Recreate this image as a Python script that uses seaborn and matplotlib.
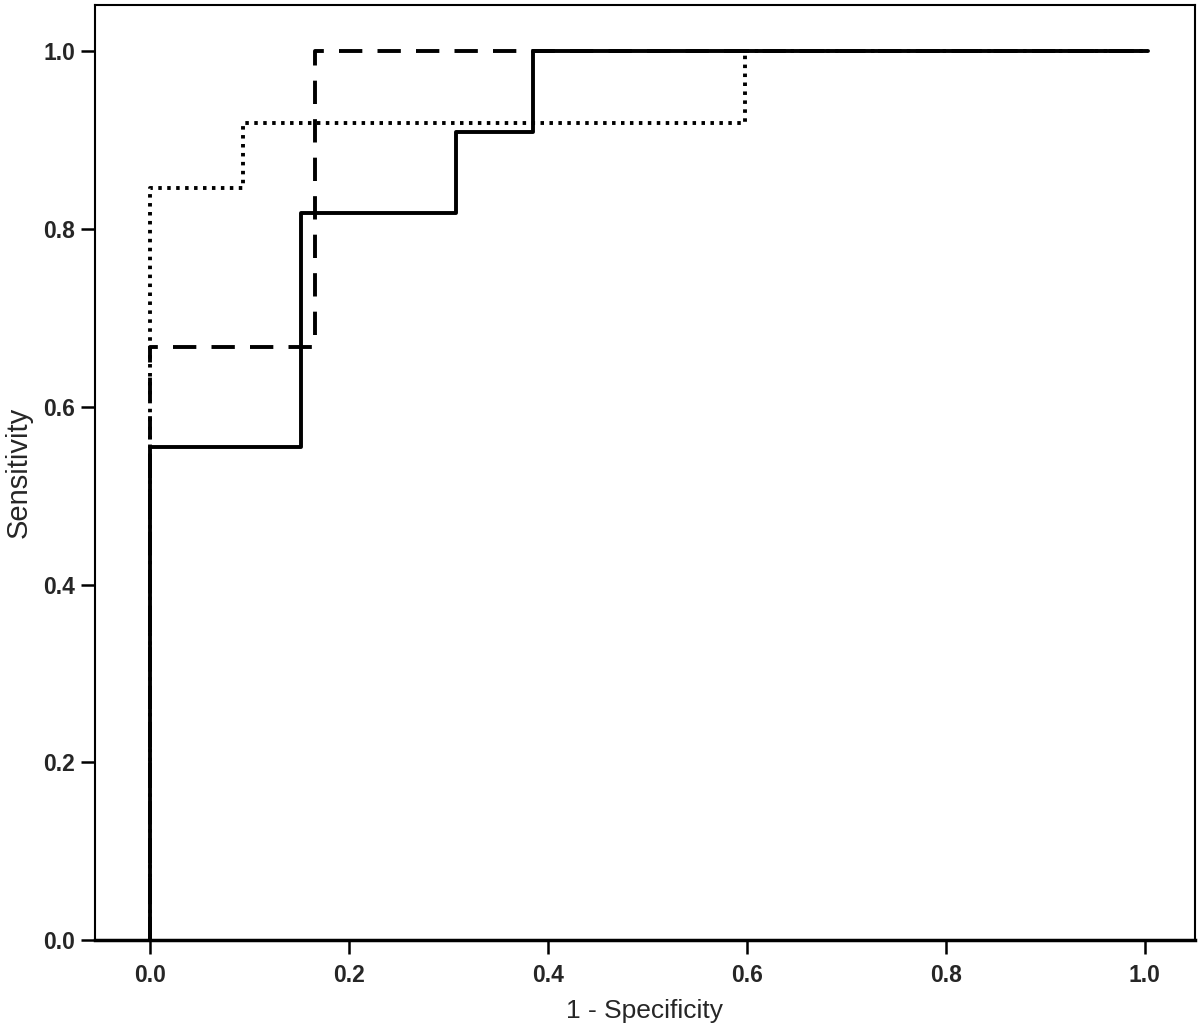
import seaborn as sns
import matplotlib.pyplot as plt
import pandas as pd

# ROC corner points (1 - specificity, sensitivity)
solid_fpr = [0.0, 0.0, 0.151, 0.151, 0.307, 0.307, 0.385, 0.385, 1.004]
solid_tpr = [0.0, 0.555, 0.555, 0.818, 0.818, 0.909, 0.909, 1.0, 1.0]

dashed_fpr = [0.0, 0.0, 0.166, 0.166, 1.004]
dashed_tpr = [0.0, 0.667, 0.667, 1.0, 1.0]

dotted_fpr = [0.0, 0.0, 0.093, 0.093, 0.598, 0.598, 1.004]
dotted_tpr = [0.0, 0.846, 0.846, 0.919, 0.919, 1.0, 1.0]

ticks = [0.0, 0.2, 0.4, 0.6, 0.8, 1.0]
tick_labels = ["0.0", "0.2", "0.4", "0.6", "0.8", "1.0"]

sns.set_style("ticks")
plt.rcParams['font.family'] = ['Liberation Sans Narrow', 'Liberation Sans', 'DejaVu Sans']

fig = plt.figure(figsize=(12, 10.3), dpi=100)
ax = fig.add_axes([0.079, 0.0874, 0.917, 0.9076])

lw = 2.8
sns.lineplot(x=dotted_fpr, y=dotted_tpr, sort=False, estimator=None, color="black",
             lw=lw, linestyle=(0, (0.9, 1.4)), ax=ax)
sns.lineplot(x=dashed_fpr, y=dashed_tpr, sort=False, estimator=None, color="black",
             lw=lw, linestyle=(0, (6.0, 3.9)), ax=ax)
sns.lineplot(x=solid_fpr, y=solid_tpr, sort=False, estimator=None, color="black",
             lw=lw, linestyle="-", ax=ax)

ax.set_xlim(-0.056, 1.051)
ax.set_ylim(0.0, 1.052)
ax.set_xticks(ticks)
ax.set_xticklabels(tick_labels, fontsize=16.5, fontweight="bold")
ax.set_yticks(ticks)
ax.set_yticklabels(tick_labels, fontsize=16.5, fontweight="bold")
ax.tick_params(axis="both", direction="out", length=10, width=1.8, color="black", pad=4)
ax.tick_params(axis="x", pad=7)

for side in ["top", "right", "left"]:
    ax.spines[side].set_linewidth(1.5)
    ax.spines[side].set_color("black")
ax.spines["bottom"].set_linewidth(2.5)
ax.spines["bottom"].set_color("black")

ax.set_xlabel("1 - Specificity", fontsize=19, labelpad=9)
ax.set_ylabel("Sensitivity", fontsize=21, labelpad=8)

plt.savefig("out.png", dpi=100)
